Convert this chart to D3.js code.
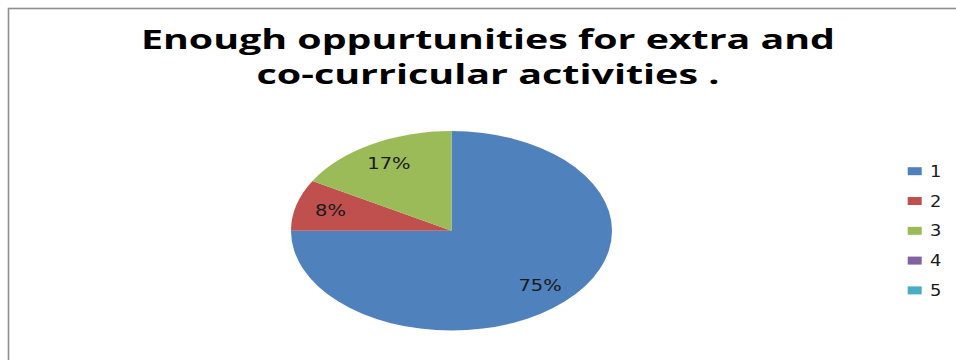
<!DOCTYPE html>
<html>
<head>
<meta charset="utf-8">
<script src="https://cdn.jsdelivr.net/npm/d3@7"></script>
<style>
  html, body { margin: 0; padding: 0; background: #fff; }
  svg { display: block; }
</style>
</head>
<body>
<svg id="chart" width="956" height="360"></svg>
<script>
const titleLines = ["Enough oppurtunities for extra and", "co-curricular activities ."];
const categories = ["1", "2", "3", "4", "5"];
const values = [9, 1, 2, 0, 0];
const colors = ["#4F81BD", "#C0504D", "#9BBB59", "#8064A2", "#4BACC6"];

const svg = d3.select("#chart");
const W = 956, H = 360;

// frame
svg.append("rect").attr("x", 8.5).attr("y", 8.5).attr("width", W + 20).attr("height", H + 20)
  .attr("fill", "#fff").attr("stroke", "#8f8f8f").attr("stroke-width", 1.6);

// title
const titleFont = "'Open Sans', 'Liberation Sans', sans-serif";
const tl = [{ y: 49, w: 694 }, { y: 84, w: 463 }];
titleLines.forEach((t, i) => {
  svg.append("text").attr("x", 488).attr("y", tl[i].y)
    .attr("text-anchor", "middle")
    .attr("font-family", titleFont).attr("font-weight", "bold").attr("font-size", 26.5)
    .attr("fill", "#000")
    .attr("textLength", tl[i].w).attr("lengthAdjust", "spacingAndGlyphs")
    .text(t);
});

// pie (elliptical, as in the stretched original)
const cx = 451.5, cy = 230.8, R = 99.7, sx = 1.61;
const pie = d3.pie().sort(null).value(d => d)(values);
const arc = d3.arc().innerRadius(0).outerRadius(R);
const g = svg.append("g").attr("transform", `translate(${cx},${cy}) scale(${sx},1)`);
g.selectAll("path").data(pie).enter().append("path")
  .attr("d", arc).attr("fill", (d, i) => colors[i]);

const total = d3.sum(values);
const labelArc = d3.arc().innerRadius(R * 0.78).outerRadius(R * 0.78);
pie.filter(d => d.value > 0).forEach(d => {
  const [x, y] = labelArc.centroid(d);
  const px = cx + x * sx, py = cy + y;
  svg.append("text")
    .attr("transform", `translate(${px},${py + 5.5}) scale(1.3,1)`)
    .attr("text-anchor", "middle")
    .attr("font-family", "'DejaVu Sans', Verdana, sans-serif").attr("font-size", 15)
    .attr("fill", "#1a1a1a")
    .text(Math.round(d.value / total * 100) + "%");
});

// legend
const legend = svg.append("g");
categories.forEach((c, i) => {
  const y = 171.2 + i * 29.8;
  legend.append("rect").attr("x", 907.7).attr("y", y - 4).attr("width", 14).attr("height", 8)
    .attr("fill", colors[i]);
  legend.append("text")
    .attr("transform", `translate(930,${y + 5.6}) scale(1.15,1)`)
    .attr("font-family", "'DejaVu Sans', Verdana, sans-serif").attr("font-size", 15.5)
    .attr("fill", "#1a1a1a")
    .text(c);
});
</script>
</body>
</html>
